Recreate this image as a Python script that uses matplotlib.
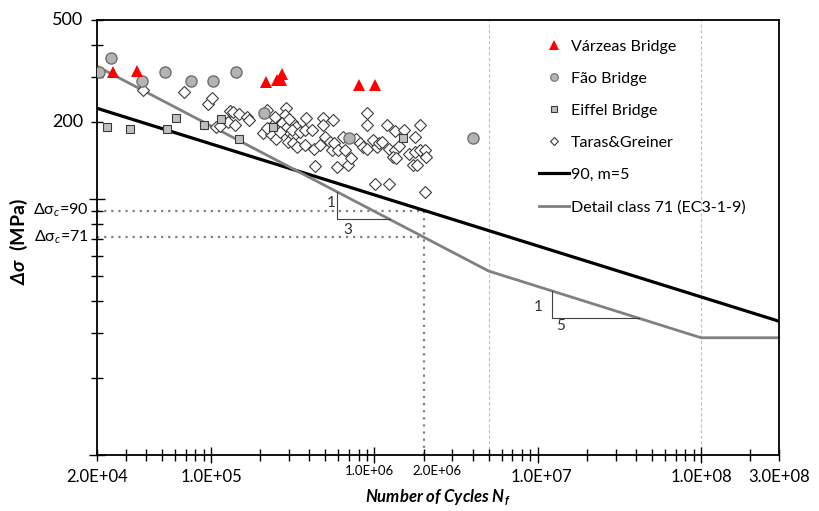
import matplotlib.pyplot as plt
from matplotlib.lines import Line2D
from matplotlib.transforms import blended_transform_factory

plt.rcParams['font.family'] = ['Lato', 'DejaVu Sans']
plt.rcParams['mathtext.fontset'] = 'custom'
plt.rcParams['mathtext.rm'] = 'Lato'
plt.rcParams['mathtext.it'] = 'Lato:italic'
plt.rcParams['mathtext.bf'] = 'Lato:bold'
plt.rcParams['mathtext.bfit'] = 'Lato:bold:italic'
plt.rcParams['mathtext.fallback'] = 'stixsans'

# ---- data ----
varzeas_N = [2.5e4, 3.5e4, 2.17e5, 2.54e5, 2.73e5, 2.69e5, 8.0e5, 1.01e6]
varzeas_S = [313, 316, 286, 292, 308, 292, 279, 279]

fao_N = [2.05e4, 2.44e4, 3.78e4, 5.22e4, 7.54e4, 1.03e5, 1.42e5, 2.11e5, 7.03e5, 4.04e6]
fao_S = [313, 355, 289, 313, 289, 289, 313, 217, 173, 173]

eiffel_N = [2.30e4, 3.18e4, 5.37e4, 6.10e4, 9.06e4, 1.15e5, 1.49e5, 2.40e5, 1.49e6]
eiffel_S = [191, 187, 187, 207, 194, 205, 171, 191, 173]

taras_N = [3.8e4, 6.8e4, 9.5e4, 1.01e5, 1.07e5, 1.14e5, 1.27e5, 1.31e5, 1.36e5, 1.49e5,
           1.66e5, 1.71e5, 2.08e5, 2.21e5, 2.33e5, 2.40e5, 2.50e5, 2.47e5, 2.58e5, 2.80e5,
           2.89e5, 2.84e5, 2.73e5, 2.92e5, 3.05e5, 3.14e5, 3.18e5, 3.32e5, 2.97e5, 3.18e5,
           3.37e5, 3.14e5, 3.52e5, 3.83e5, 3.77e5, 3.77e5, 4.17e5, 4.29e5, 4.67e5, 4.87e5,
           4.87e5, 5.01e5, 5.37e5, 5.60e5, 5.52e5, 5.69e5, 6.01e5, 6.45e5, 6.64e5, 4.35e5,
           5.93e5, 6.92e5, 7.23e5, 7.76e5, 8.21e5, 8.56e5, 8.94e5, 9.06e5, 9.73e5, 9.06e5,
           1.04e6, 1.07e6, 1.12e6, 1.20e6, 1.22e6, 1.33e6, 1.34e6, 1.29e6, 1.36e6, 1.42e6,
           1.51e6, 1.62e6, 1.73e6, 1.81e6, 1.76e6, 1.78e6, 1.89e6, 1.91e6, 2.03e6, 2.08e6,
           1.01e6, 1.22e6, 2.05e6, 2.2e5, 2.65e5, 3.0e5, 1.40e5]
taras_S = [267, 262, 235, 248, 191, 193, 200, 220, 218, 215,
           209, 203, 181, 223, 179, 194, 171, 209, 193, 194,
           226, 213, 198, 191, 181, 200, 176, 191, 167, 166,
           160, 186, 183, 207, 186, 162, 186, 157, 162, 207,
           194, 175, 167, 203, 155, 166, 155, 175, 155, 134,
           133, 136, 145, 171, 166, 160, 217, 194, 170, 157,
           160, 166, 167, 194, 157, 155, 184, 146, 145, 161,
           186, 150, 136, 136, 152, 175, 155, 194, 155, 146,
           114, 114, 106, 190, 183, 205, 195]

# S-N curves (breakpoints)
m5_N = [2e4, 3e8]
m5_S = [226, 33.3]
ec3_N = [2e4, 5e6, 1e8, 3e8]
ec3_S = [329.5, 52.3, 28.7, 28.7]

x_labels = ['2.0E+04', '1.0E+05', '1.0E+07', '1.0E+08', '3.0E+08']
x_label_pos = [2e4, 1e5, 1.05e7, 1.0e8, 3e8]
small_labels = ['1.0E+06', '2.0E+06']
small_label_pos = [9.3e5, 2.4e6]

# ---- figure ----
fig = plt.figure(figsize=(8.2, 5.11), dpi=100)
ax = fig.add_axes([97 / 820, 1 - 455 / 511, 682 / 820, 435 / 511])
ax.set_xscale('log')
ax.set_yscale('log')
ax.set_xlim(2e4, 3e8)
ax.set_ylim(10, 500)

# guide lines
ax.plot([2e4, 2e6], [90, 90], color='#808080', lw=1.6, ls=(0, (1, 2.2)), zorder=1)
ax.plot([2e4, 2e6], [71, 71], color='#808080', lw=1.6, ls=(0, (1, 2.2)), zorder=1)
ax.plot([2e6, 2e6], [10, 90], color='#808080', lw=1.6, ls=(0, (1, 2.2)), zorder=1)
for xv in [5e6, 1e8]:
    ax.plot([xv, xv], [10, 500], color='#c0c0c0', lw=0.8, ls=(0, (3, 2)), zorder=1)

ax.plot(m5_N, m5_S, color='black', lw=2.3, zorder=2)
ax.plot(ec3_N, ec3_S, color='#808080', lw=2.0, zorder=2)

# slope triangles
def slope_triangle(n1, s_top, m):
    s_bot = s_top / 1.28
    n2 = n1 * 1.28 ** m
    ax.plot([n1, n1, n2], [s_top, s_bot, s_bot], color='#404040', lw=0.8, zorder=2)

slope_triangle(5.93e5, 106.6, 3)
slope_triangle(1.22e7, 43.8, 5)
ax.text(5.4e5, 96.5, '1', fontsize=11, color='#333333', ha='center', va='center')
ax.text(6.9e5, 75.5, '3', fontsize=11, color='#333333', ha='center', va='center')
ax.text(1.01e7, 37.7, '1', fontsize=11, color='#333333', ha='center', va='center')
ax.text(1.37e7, 31.8, '5', fontsize=11, color='#333333', ha='center', va='center')

# scatter
ax.plot(taras_N, taras_S, 'D', ms=6.3, mfc='white', mec='#3a3a3a', mew=0.8, zorder=3)
ax.plot(eiffel_N, eiffel_S, 's', ms=5.6, mfc='#bfbfbf', mec='#3a3a3a', mew=0.8, zorder=4)
ax.plot(fao_N, fao_S, 'o', ms=8, mfc='#b4b4b4', mec='#6e6e6e', mew=1.0, zorder=4)
ax.plot(varzeas_N, varzeas_S, '^', ms=9, mfc='red', mec='red', mew=0, zorder=5)

# axes styling
for sp in ax.spines.values():
    sp.set_linewidth(1.3)
ax.tick_params(which='major', direction='inout', length=12, width=1.0)
ax.tick_params(which='minor', direction='inout', length=8, width=1.0)
ax.tick_params(labelbottom=False, labelleft=False)
ax.yaxis.set_minor_formatter(plt.NullFormatter())
ax.xaxis.set_minor_formatter(plt.NullFormatter())

# custom tick labels
tx = blended_transform_factory(ax.transData, ax.transAxes)
for pos, lab in zip(x_label_pos, x_labels):
    ax.text(pos, -0.032, lab, transform=tx, ha='center', va='top', fontsize=12)
for pos, lab in zip(small_label_pos, small_labels):
    ax.text(pos, -0.022, lab, transform=tx, ha='center', va='top', fontsize=9.5)

ty = blended_transform_factory(ax.transAxes, ax.transData)
ax.text(-0.02, 500, '500', transform=ty, ha='right', va='center', fontsize=13)
ax.text(-0.02, 200, '200', transform=ty, ha='right', va='center', fontsize=13)
ax.text(-0.012, 90, 'Δσ$_c$=90', transform=ty, ha='right', va='center', fontsize=11.5)
ax.text(-0.012, 71, 'Δσ$_c$=71', transform=ty, ha='right', va='center', fontsize=11.5)

ax.set_ylabel(r'$\mathbfit{\Delta\sigma}$  (MPa)', fontsize=14, fontweight='bold')
ax.yaxis.set_label_coords(-0.098, 0.49)
fig.text(438 / 820, 1 - 498 / 511, 'Number of Cycles N$_{\\mathbfit{f}}$', fontsize=12,
         fontweight='bold', style='italic', ha='center', va='center')

# legend
handles = [
    Line2D([], [], ls='none', marker='^', ms=7, mfc='red', mec='red', mew=0),
    Line2D([], [], ls='none', marker='o', ms=5.5, mfc='#b4b4b4', mec='#6e6e6e', mew=0.8),
    Line2D([], [], ls='none', marker='s', ms=4.5, mfc='#bfbfbf', mec='#3a3a3a', mew=0.8),
    Line2D([], [], ls='none', marker='D', ms=4.5, mfc='white', mec='#3a3a3a', mew=0.8),
    Line2D([], [], color='black', lw=2.3),
    Line2D([], [], color='#808080', lw=2.0),
]
labels = ['Várzeas Bridge', 'Fão Bridge', 'Eiffel Bridge', 'Taras&Greiner',
          '90, m=5', 'Detail class 71 (EC3-1-9)']
ax.legend(handles, labels, loc='upper left', bbox_to_anchor=(0.648, 0.955),
          frameon=False, fontsize=11.5, handlelength=1.9, handletextpad=0.1,
          labelspacing=1.12, borderpad=0, borderaxespad=0)

fig.savefig('out.png', dpi=100)
